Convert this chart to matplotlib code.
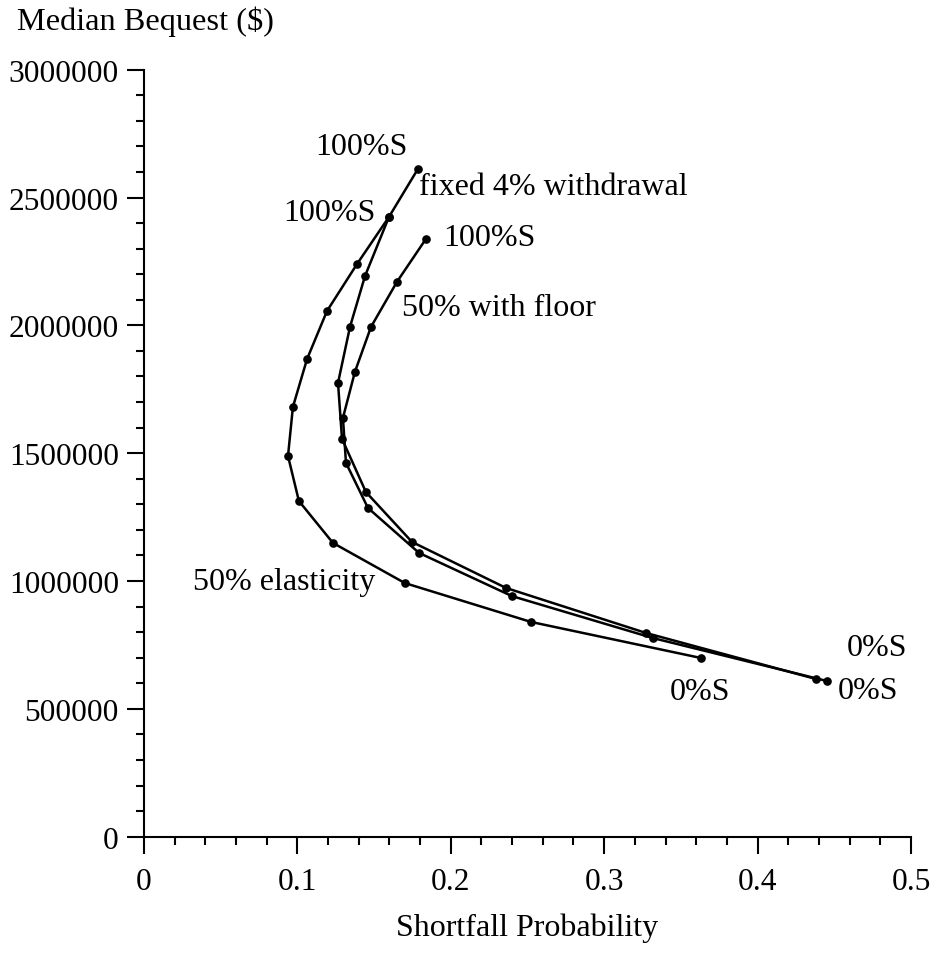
import matplotlib
matplotlib.use("Agg")
import matplotlib.pyplot as plt
from matplotlib.ticker import MultipleLocator

plt.rcParams['font.family'] = ['Liberation Serif', 'DejaVu Serif']

# fixed 4% withdrawal, 100%S -> 0%S
fixed_x = [0.1786, 0.1597, 0.1441, 0.1343, 0.1265, 0.1291, 0.1447, 0.1747, 0.236, 0.3272, 0.438]
fixed_y = [2612000, 2424000, 2193000, 1994000, 1775000, 1556000, 1348000, 1153000, 973000, 797000, 617000]

# 50% with floor
floor_x = [0.1838, 0.1649, 0.148, 0.1375, 0.1297, 0.1317, 0.146, 0.1793, 0.2399, 0.3318, 0.4452]
floor_y = [2338000, 2170000, 1994000, 1818000, 1638000, 1462000, 1286000, 1110000, 941000, 777000, 609000]

# 50% elasticity
elast_x = [0.1597, 0.1389, 0.1193, 0.1063, 0.0971, 0.0939, 0.101, 0.1232, 0.1701, 0.2523, 0.3631]
elast_y = [2424000, 2240000, 2056000, 1868000, 1681000, 1489000, 1313000, 1149000, 992000, 840000, 699000]

x_ticks = [0, 0.1, 0.2, 0.3, 0.4, 0.5]
x_labels = ["0", "0.1", "0.2", "0.3", "0.4", "0.5"]
y_ticks = [0, 500000, 1000000, 1500000, 2000000, 2500000, 3000000]
y_labels = ["0", "500000", "1000000", "1500000", "2000000", "2500000", "3000000"]

fig = plt.figure(figsize=(9.33, 9.54), dpi=100)
ax = fig.add_axes([0.1543, 0.1219, 0.8221, 0.804])

for xs, ys in [(fixed_x, fixed_y), (floor_x, floor_y), (elast_x, elast_y)]:
    ax.plot(xs, ys, color="black", lw=1.8, marker="o", ms=5.2, clip_on=False)

ax.set_xlim(0, 0.5)
ax.set_ylim(0, 3000000)
ax.set_xticks(x_ticks, x_labels)
ax.set_yticks(y_ticks, y_labels)
ax.xaxis.set_minor_locator(MultipleLocator(0.02))
ax.yaxis.set_minor_locator(MultipleLocator(100000))

for s in ["top", "right"]:
    ax.spines[s].set_visible(False)
for s in ["left", "bottom"]:
    ax.spines[s].set_linewidth(1.5)

ax.tick_params(which="major", length=12, width=1.5, labelsize=22.6, direction="out")
ax.tick_params(which="minor", length=6, width=1.5, direction="out")
ax.tick_params(axis="y", pad=6)
ax.tick_params(axis="x", pad=10)

ax.set_xlabel("Shortfall Probability", fontsize=23, va="center")
ax.xaxis.set_label_coords(0.4993, -0.1185)
fig.text(17 / 933, 1 - 22 / 954, "Median Bequest ($)", fontsize=23.3, ha="left", va="center")

fs = 23
ax.text(0.142, 2700000, "100%S", fontsize=fs, ha="center", va="center")
ax.text(0.1795, 2545000, "fixed 4% withdrawal", fontsize=fs, ha="left", va="center")
ax.text(0.121, 2440000, "100%S", fontsize=fs, ha="center", va="center")
ax.text(0.195, 2345000, "100%S", fontsize=fs, ha="left", va="center")
ax.text(0.168, 2068000, "50% with floor", fontsize=fs, ha="left", va="center")
ax.text(0.032, 1000000, "50% elasticity", fontsize=fs, ha="left", va="center")
ax.text(0.3625, 568000, "0%S", fontsize=fs, ha="center", va="center")
ax.text(0.478, 740000, "0%S", fontsize=fs, ha="center", va="center")
ax.text(0.472, 570000, "0%S", fontsize=fs, ha="center", va="center")

fig.savefig("out.png", dpi=100)
